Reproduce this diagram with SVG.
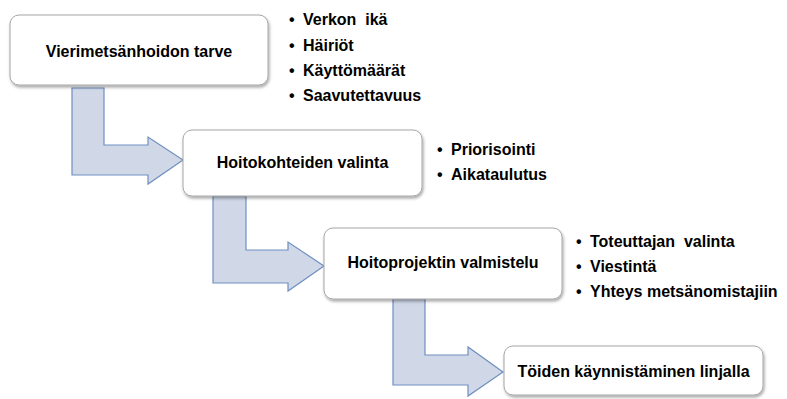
<svg xmlns="http://www.w3.org/2000/svg" width="787" height="399" viewBox="0 0 787 399">
<defs>
<filter id="sh" x="-10%" y="-20%" width="120%" height="150%">
<feDropShadow dx="1" dy="2" stdDeviation="1.5" flood-color="#000" flood-opacity="0.35"/>
</filter>
<style>
.box{fill:#fff;stroke:#a6a6a6;stroke-width:1;filter:url(#sh)}
.arr{fill:#d0d8e8;stroke:#6f8fc0;stroke-width:1.2}
.lbl{font-family:"Liberation Sans",Arial,sans-serif;font-weight:bold;font-size:16px;fill:#000;text-anchor:middle}
.bul{font-family:"Liberation Sans",Arial,sans-serif;font-weight:bold;font-size:16px;fill:#000;white-space:pre}
.dot{font-family:"Liberation Sans",Arial,sans-serif;font-weight:bold;font-size:16px;fill:#000}
</style>
</defs>
<rect width="787" height="399" fill="#fff"/>
<g id="connectors">
<path class="arr" d="M72,88 L104,88 L104,145 L148,145 L148,137 L183,160 L148,184 L148,175 L72,175 Z"/>
<path class="arr" d="M213,196 L246,196 L246,250 L288,250 L288,242 L324,266 L288,291 L288,283 L213,283 Z"/>
<path class="arr" d="M393,299 L425,299 L425,355 L468,355 L468,347 L503,372 L468,396 L468,385 L393,385 Z"/>
</g>
<g id="node1">
<rect class="box" x="10" y="15" width="258" height="70" rx="9"/>
<text class="lbl" x="139" y="57">Vierimetsänhoidon tarve</text>
</g>
<g id="node2">
<rect class="box" x="183" y="130" width="239" height="66" rx="9"/>
<text class="lbl" x="302.5" y="168">Hoitokohteiden valinta</text>
</g>
<g id="node3">
<rect class="box" x="324" y="228" width="238" height="71" rx="9"/>
<text class="lbl" x="443" y="268">Hoitoprojektin valmistelu</text>
</g>
<g id="node4">
<rect class="box" x="504" y="346" width="259" height="49" rx="9"/>
<text class="lbl" x="633.5" y="377">Töiden käynnistäminen linjalla</text>
</g>
<g id="list1">
<text class="dot" x="289" y="25">•</text><text class="bul" x="303" y="25">Verkon  ikä</text>
<text class="dot" x="289" y="51">•</text><text class="bul" x="303" y="51">Häiriöt</text>
<text class="dot" x="289" y="76">•</text><text class="bul" x="303" y="76">Käyttömäärät</text>
<text class="dot" x="289" y="101">•</text><text class="bul" x="303" y="101">Saavutettavuus</text>
</g>
<g id="list2">
<text class="dot" x="437" y="155">•</text><text class="bul" x="451" y="155">Priorisointi</text>
<text class="dot" x="437" y="180">•</text><text class="bul" x="451" y="180">Aikataulutus</text>
</g>
<g id="list3">
<text class="dot" x="576" y="247">•</text><text class="bul" x="590" y="247">Toteuttajan  valinta</text>
<text class="dot" x="576" y="272">•</text><text class="bul" x="590" y="272">Viestintä</text>
<text class="dot" x="576" y="297">•</text><text class="bul" x="590" y="297">Yhteys metsänomistajiin</text>
</g>
</svg>
